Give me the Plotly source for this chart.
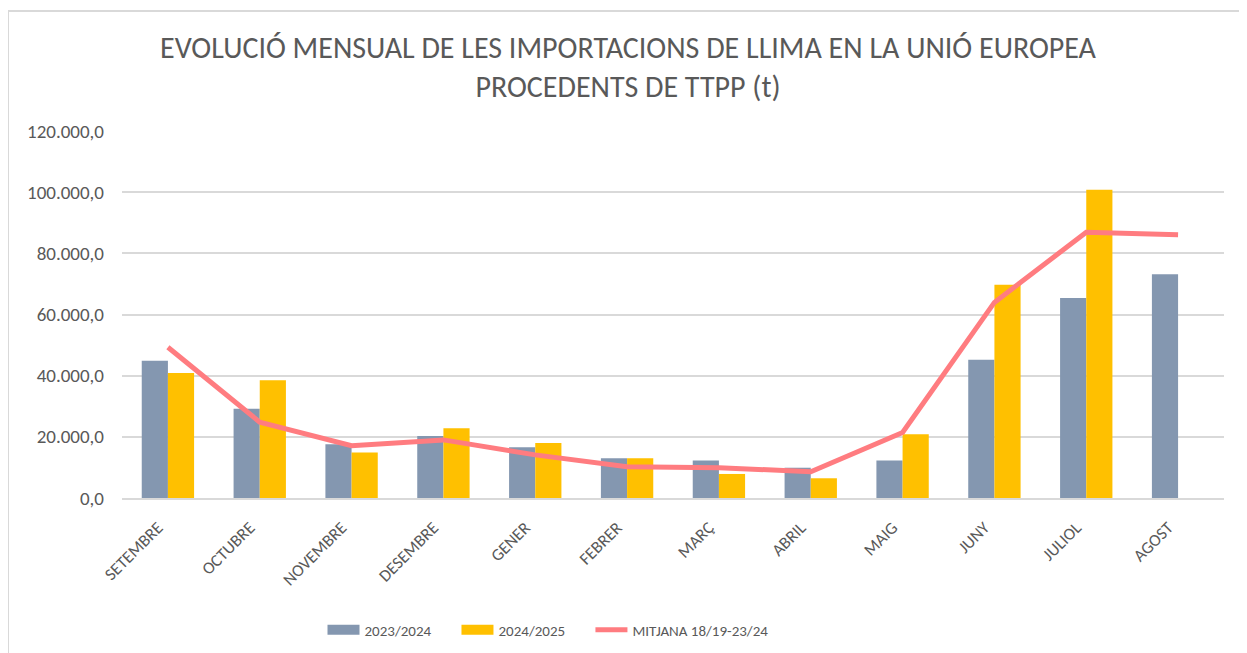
import plotly.graph_objects as go

months = ["SETEMBRE", "OCTUBRE", "NOVEMBRE", "DESEMBRE", "GENER", "FEBRER",
          "MARÇ", "ABRIL", "MAIG", "JUNY", "JULIOL", "AGOST"]
s2324 = [44900, 29150, 17600, 20300, 16600, 13000, 12300, 9900, 12300, 45200, 65400, 73150]
s2425 = [40900, 38500, 14850, 22800, 18000, 13000, 7860, 6450, 20850, 69760, 100770, None]
mitjana = [49300, 24800, 17100, 19000, 14100, 10250, 9900, 8600, 21400, 63960, 86900, 86100]
y_ticks = [0, 20000, 40000, 60000, 80000, 100000, 120000]

FONT = "Carlito, Open Sans, sans-serif"
GREY = "#595959"
BLUE = "#8497B0"
GOLD = "#FFC000"
PINK = "#FF7C80"
PAD = "\u00a0" * 6

fig = go.Figure()
fig.add_trace(go.Bar(x=months, y=s2324, name="2023/2024", marker_color=BLUE,
                     marker_line_width=0, showlegend=False))
fig.add_trace(go.Bar(x=months, y=s2425, name="2024/2025", marker_color=GOLD,
                     marker_line_width=0, showlegend=False))
fig.add_trace(go.Scatter(x=months, y=mitjana, name="MITJANA 18/19-23/24", mode="lines",
                         line=dict(color=PINK, width=5), showlegend=False))
# legend swatches (wide rectangles like the original)
fig.add_trace(go.Scatter(x=[None], y=[None], name="2023/2024" + PAD, mode="lines",
                         line=dict(color=BLUE, width=12)))
fig.add_trace(go.Scatter(x=[None], y=[None], name="2024/2025" + PAD, mode="lines",
                         line=dict(color=GOLD, width=12)))
fig.add_trace(go.Scatter(x=[None], y=[None], name="MITJANA 18/19-23/24", mode="lines",
                         line=dict(color=PINK, width=5)))

OFF = 8  # page margin of the browser
W, H = 1247 - OFF, 653 - OFF
L, T = 122 - OFF, 131 - OFF
R = W - (1224 - OFF)
B = H - (498 - OFF)
pw = W - L - R
ph = H - T - B

def px_x(p):
    return (p - OFF - L) / pw

def px_y(p):
    return (H - B - (p - OFF)) / ph

fig.update_layout(
    width=W, height=H,
    margin=dict(l=L, r=R, t=T, b=B, autoexpand=False),
    paper_bgcolor="white", plot_bgcolor="white",
    separators=",.",
    font=dict(family=FONT, color=GREY, size=16),
    title=dict(text="EVOLUCIÓ MENSUAL DE LES IMPORTACIONS DE LLIMA EN LA UNIÓ EUROPEA<br>PROCEDENTS DE TTPP (t)",
               x=(628 - OFF) / W, xanchor="center", y=1 - (58 - OFF) / H, yanchor="top",
               font=dict(family=FONT, size=30, color=GREY)),
    barmode="group", bargap=0.43, bargroupgap=0,
    xaxis=dict(tickangle=-45, showgrid=False, showline=True, linecolor="#D9D9D9",
               linewidth=2, ticks="", automargin=False, ticklabelstandoff=11,
               ticklabelshift=-10, tickfont=dict(size=17, color=GREY)),
    yaxis=dict(range=[0, 120000], tickvals=y_ticks, tickformat=",.1f",
               showgrid=True, gridcolor="#D9D9D9", gridwidth=1.5, zeroline=False,
               ticks="", ticklen=0, automargin=False, ticklabelstandoff=17,
               tickfont=dict(size=19, color=GREY)),
    legend=dict(orientation="h", xref="container", yref="container",
                x=(548 - OFF) / W, xanchor="center", y=1 - (630 - OFF) / H, yanchor="middle",
                font=dict(size=15, color=GREY), itemwidth=32),
    shapes=[
        dict(type="line", xref="paper", yref="paper", x0=px_x(8), x1=px_x(8),
             y0=px_y(11), y1=px_y(670), line=dict(color="#D9D9D9", width=2)),
        dict(type="line", xref="paper", yref="paper", x0=px_x(8), x1=px_x(1270),
             y0=px_y(11), y1=px_y(11), line=dict(color="#D9D9D9", width=2)),
    ],
)

fig.write_html("out.html")
